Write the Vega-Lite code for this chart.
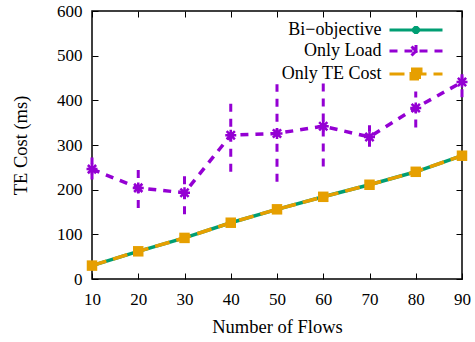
{
  "$schema": "https://vega.github.io/schema/vega-lite/v6.json",
  "width": 370,
  "height": 268,
  "autosize": {"type": "none"},
  "padding": {"left": 92, "top": 11, "right": 13, "bottom": 63},
  "background": "white",
  "config": {
    "view": {"stroke": "black", "strokeWidth": 1.5},
    "font": "Liberation Serif",
    "axis": {
      "grid": false,
      "domain": false,
      "tickColor": "black",
      "tickWidth": 1,
      "tickSize": -6,
      "labelFont": "Liberation Serif",
      "labelFontSize": 17,
      "labelColor": "black",
      "titleFont": "Liberation Serif",
      "titleFontSize": 18.5,
      "titleFontWeight": "normal",
      "titleColor": "black"
    },
    "legend": {
      "labelFont": "Liberation Serif",
      "labelFontSize": 14,
      "labelColor": "black"
    }
  },
  "data": {
    "values": [
      {"flows": 10, "series": "Bi−objective", "cost": 30},
      {"flows": 20, "series": "Bi−objective", "cost": 62},
      {"flows": 30, "series": "Bi−objective", "cost": 92},
      {"flows": 40, "series": "Bi−objective", "cost": 126},
      {"flows": 50, "series": "Bi−objective", "cost": 156},
      {"flows": 60, "series": "Bi−objective", "cost": 184},
      {"flows": 70, "series": "Bi−objective", "cost": 211},
      {"flows": 80, "series": "Bi−objective", "cost": 240},
      {"flows": 90, "series": "Bi−objective", "cost": 276},
      {"flows": 10, "series": "Only Load", "cost": 246, "lo": 223, "hi": 272},
      {"flows": 20, "series": "Only Load", "cost": 204, "lo": 159, "hi": 246},
      {"flows": 30, "series": "Only Load", "cost": 193, "lo": 145, "hi": 235},
      {"flows": 40, "series": "Only Load", "cost": 322, "lo": 240, "hi": 404},
      {"flows": 50, "series": "Only Load", "cost": 326, "lo": 218, "hi": 436},
      {"flows": 60, "series": "Only Load", "cost": 342, "lo": 252, "hi": 440},
      {"flows": 70, "series": "Only Load", "cost": 318, "lo": 296, "hi": 344},
      {"flows": 80, "series": "Only Load", "cost": 383, "lo": 339, "hi": 420},
      {"flows": 90, "series": "Only Load", "cost": 441, "lo": 407, "hi": 474},
      {"flows": 10, "series": "Only TE Cost", "cost": 30},
      {"flows": 20, "series": "Only TE Cost", "cost": 62},
      {"flows": 30, "series": "Only TE Cost", "cost": 92},
      {"flows": 40, "series": "Only TE Cost", "cost": 126},
      {"flows": 50, "series": "Only TE Cost", "cost": 156},
      {"flows": 60, "series": "Only TE Cost", "cost": 184},
      {"flows": 70, "series": "Only TE Cost", "cost": 211},
      {"flows": 80, "series": "Only TE Cost", "cost": 240},
      {"flows": 90, "series": "Only TE Cost", "cost": 276}
    ]
  },
  "layer": [
    {
      "transform": [{"filter": "datum.series === 'Bi−objective'"}],
      "mark": {"type": "line", "color": "#009e73", "strokeWidth": 3.5},
      "encoding": {
        "x": {"field": "flows", "type": "quantitative", "scale": {"domain": [10, 90], "nice": false, "zero": false},
          "axis": {"orient": "bottom", "values": [10, 20, 30, 40, 50, 60, 70, 80, 90], "labelPadding": 18, "labelFlush": false, "title": "Number of Flows", "titlePadding": 10}},
        "y": {"field": "cost", "type": "quantitative", "scale": {"domain": [0, 600], "nice": false},
          "axis": {"orient": "left", "values": [0, 100, 200, 300, 400, 500, 600], "labelPadding": 16, "title": "TE Cost (ms)", "titlePadding": 26}}
      }
    },
    {
      "transform": [{"filter": "datum.series === 'Bi−objective'"}],
      "mark": {"type": "point", "shape": "circle", "filled": true, "color": "#009e73", "size": 20, "opacity": 1},
      "encoding": {
        "x": {"field": "flows", "type": "quantitative", "axis": null},
        "y": {"field": "cost", "type": "quantitative", "axis": null}
      }
    },
    {
      "transform": [{"filter": "datum.series === 'Only Load'"}],
      "mark": {"type": "rule", "color": "#9400d3", "strokeWidth": 3, "strokeDash": [8, 7]},
      "encoding": {
        "x": {"field": "flows", "type": "quantitative", "axis": null},
        "y": {"field": "lo", "type": "quantitative", "axis": null},
        "y2": {"field": "hi"}
      }
    },
    {
      "transform": [{"filter": "datum.series === 'Only Load'"}],
      "mark": {"type": "line", "color": "#9400d3", "strokeWidth": 3.5, "strokeDash": [8, 7]},
      "encoding": {
        "x": {"field": "flows", "type": "quantitative", "axis": null},
        "y": {"field": "cost", "type": "quantitative", "axis": null}
      }
    },
    {
      "transform": [{"filter": "datum.series === 'Only Load'"}],
      "mark": {"type": "point", "shape": "M-1,0H1M0,-1V1M-0.75,-0.75L0.75,0.75M-0.75,0.75L0.75,-0.75", "filled": false, "color": "#9400d3", "strokeWidth": 2.5, "size": 121, "opacity": 1},
      "encoding": {
        "x": {"field": "flows", "type": "quantitative", "axis": null},
        "y": {"field": "cost", "type": "quantitative", "axis": null}
      }
    },
    {
      "transform": [{"filter": "datum.series === 'Only TE Cost'"}],
      "mark": {"type": "line", "color": "#e69f00", "strokeWidth": 3.5, "strokeDash": [15, 7]},
      "encoding": {
        "x": {"field": "flows", "type": "quantitative", "axis": null},
        "y": {"field": "cost", "type": "quantitative", "axis": null}
      }
    },
    {
      "transform": [{"filter": "datum.series === 'Only TE Cost'"}],
      "mark": {"type": "point", "shape": "square", "filled": true, "color": "#e69f00", "size": 110, "opacity": 1},
      "encoding": {
        "x": {"field": "flows", "type": "quantitative", "axis": null},
        "y": {"field": "cost", "type": "quantitative", "axis": null}
      }
    },
    {
      "mark": {"type": "point", "filled": true, "opacity": 0},
      "encoding": {
        "x": {"field": "flows", "type": "quantitative",
          "axis": {"orient": "top", "values": [10, 20, 30, 40, 50, 60, 70, 80, 90], "labels": false, "title": null}},
        "y": {"field": "cost", "type": "quantitative",
          "axis": {"orient": "right", "values": [0, 100, 200, 300, 400, 500, 600], "labels": false, "title": null}},
        "color": {"field": "series", "type": "nominal",
          "scale": {"domain": ["Bi−objective", "Only Load", "Only TE Cost"], "range": ["#009e73", "#9400d3", "#e69f00"]},
          "legend": {
            "title": null, "orient": "none", "legendX": 315, "legendY": 10,
            "labelAlign": "right", "labelOffset": -43.5,
            "labelFontSize": 14,
            "symbolSize": 25, "symbolStrokeWidth": 3,
            "rowPadding": 0,
            "encode": {
              "symbols": {
                "update": {
                  "fill": {"scale": "color", "field": "value"},
                  "stroke": {"scale": "color", "field": "value"},
                  "strokeWidth": {"value": 3},
                  "opacity": {"value": 1}
                }
              },
              "labels": {
                "update": {
                  "fontSize": {"value": 18}
                }
              }
            }
          }},
        "shape": {"field": "series", "type": "nominal",
          "scale": {"domain": ["Bi−objective", "Only Load", "Only TE Cost"],
            "range": [
              "M-10.6,0H10.6M-1,-0.4L-0.4,-1H0.4L1,-0.4V0.4L0.4,1H-0.4L-1,0.4Z",
              "M-10.6,0H10.6M0,-2.4V2.4M-1.8,-1.8L1.8,1.8M-1.8,1.8L1.8,-1.8",
              "M-10.6,0H10.6M-2,-2H2V2H-2Z"
            ]}},
        "strokeDash": {"field": "series", "type": "nominal",
          "scale": {"domain": ["Bi−objective", "Only Load", "Only TE Cost"], "range": [[1, 0], [8, 7], [15, 7]]}}
      }
    }
  ]
}
